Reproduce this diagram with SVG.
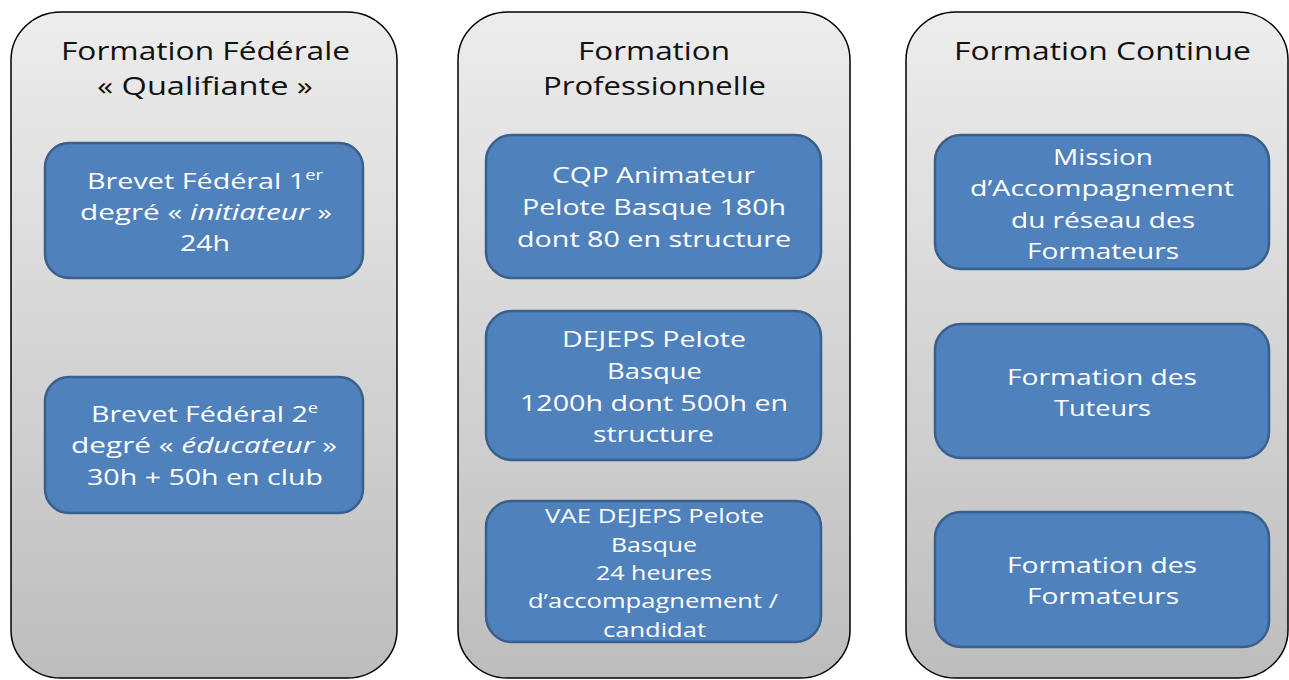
<svg xmlns="http://www.w3.org/2000/svg" width="1289" height="680" viewBox="0 0 1289 680">
<defs>
<linearGradient id="pg" x1="0" y1="0" x2="0" y2="1">
<stop offset="0" stop-color="#EDEDED"/>
<stop offset="1" stop-color="#BDBDBD"/>
</linearGradient>
</defs>
<style>
.panel{fill:url(#pg);stroke:#000;stroke-width:1.5}
.box{fill:#4F81BD;stroke:#3A5F8C;stroke-width:2.5}
.t{font-family:"Open Sans","Liberation Sans",sans-serif;font-size:26px;fill:#111;text-anchor:middle}
.b{font-family:"Open Sans","Liberation Sans",sans-serif;font-size:22px;fill:#fff;text-anchor:middle}
.s{font-family:"Open Sans","Liberation Sans",sans-serif;font-size:20px;fill:#fff;text-anchor:middle}
.sup{font-size:14px}
</style>
<rect width="1289" height="680" fill="#fff"/>
<g id="panel-federale">
<rect class="panel" x="11" y="12" width="386" height="666" rx="50" ry="48"/>
<text class="t" x="205.5" y="60" textLength="289" lengthAdjust="spacingAndGlyphs">Formation Fédérale</text>
<text class="t" x="205" y="95" textLength="216" lengthAdjust="spacingAndGlyphs">« Qualifiante »</text>
</g>
<g id="panel-pro">
<rect class="panel" x="458" y="12" width="392" height="666" rx="50" ry="48"/>
<text class="t" x="654" y="60" textLength="152" lengthAdjust="spacingAndGlyphs">Formation</text>
<text class="t" x="654.5" y="95" textLength="223" lengthAdjust="spacingAndGlyphs">Professionnelle</text>
</g>
<g id="panel-continue">
<rect class="panel" x="906" y="12" width="382" height="666" rx="50" ry="48"/>
<text class="t" x="1102.5" y="60" textLength="297" lengthAdjust="spacingAndGlyphs">Formation Continue</text>
</g>
<g id="bf1">
<rect class="box" x="45" y="143" width="318" height="135" rx="24"/>
<text class="b" x="205" y="189" textLength="236" lengthAdjust="spacingAndGlyphs">Brevet Fédéral  1<tspan class="sup" dy="-9">er</tspan></text>
<text class="b" x="206" y="220" textLength="252" lengthAdjust="spacingAndGlyphs">degré « <tspan font-style="italic">initiateur</tspan> »</text>
<text class="b" x="205" y="251" textLength="50" lengthAdjust="spacingAndGlyphs">24h</text>
</g>
<g id="bf2">
<rect class="box" x="45" y="377" width="318" height="136" rx="24"/>
<text class="b" x="204.5" y="422" textLength="227" lengthAdjust="spacingAndGlyphs">Brevet Fédéral  2<tspan class="sup" dy="-9">e</tspan></text>
<text class="b" x="204" y="453" textLength="266" lengthAdjust="spacingAndGlyphs">degré « <tspan font-style="italic">éducateur</tspan> »</text>
<text class="b" x="205" y="485" textLength="236" lengthAdjust="spacingAndGlyphs">30h + 50h en club</text>
</g>
<g id="cqp">
<rect class="box" x="486" y="135" width="335" height="143" rx="26"/>
<text class="b" x="653.5" y="183" textLength="203" lengthAdjust="spacingAndGlyphs">CQP Animateur</text>
<text class="b" x="654" y="215" textLength="264" lengthAdjust="spacingAndGlyphs">Pelote Basque 180h</text>
<text class="b" x="654" y="247" textLength="274" lengthAdjust="spacingAndGlyphs">dont 80 en structure</text>
</g>
<g id="dejeps">
<rect class="box" x="486" y="311" width="335" height="149" rx="26"/>
<text class="b" x="654" y="347" textLength="184" lengthAdjust="spacingAndGlyphs">DEJEPS Pelote</text>
<text class="b" x="654.5" y="379" textLength="95" lengthAdjust="spacingAndGlyphs">Basque</text>
<text class="b" x="654" y="411" textLength="268" lengthAdjust="spacingAndGlyphs">1200h dont 500h en</text>
<text class="b" x="653.5" y="442" textLength="121" lengthAdjust="spacingAndGlyphs">structure</text>
</g>
<g id="vae">
<rect class="box" x="486" y="501" width="335" height="141" rx="26"/>
<text class="s" x="654.5" y="523" textLength="219" lengthAdjust="spacingAndGlyphs">VAE DEJEPS Pelote</text>
<text class="s" x="654" y="552" textLength="86" lengthAdjust="spacingAndGlyphs">Basque</text>
<text class="s" x="654" y="580" textLength="116" lengthAdjust="spacingAndGlyphs">24 heures</text>
<text class="s" x="653" y="608" textLength="250" lengthAdjust="spacingAndGlyphs">d’accompagnement /</text>
<text class="s" x="654.5" y="637" textLength="103" lengthAdjust="spacingAndGlyphs">candidat</text>
</g>
<g id="mission">
<rect class="box" x="935" y="135" width="334" height="134" rx="26"/>
<text class="b" x="1103" y="165" textLength="100" lengthAdjust="spacingAndGlyphs">Mission</text>
<text class="b" x="1102" y="196" textLength="264" lengthAdjust="spacingAndGlyphs">d’Accompagnement</text>
<text class="b" x="1103" y="228" textLength="184" lengthAdjust="spacingAndGlyphs">du réseau des</text>
<text class="b" x="1103" y="259" textLength="152" lengthAdjust="spacingAndGlyphs">Formateurs</text>
</g>
<g id="tuteurs">
<rect class="box" x="935" y="324" width="334" height="134" rx="26"/>
<text class="b" x="1102" y="385" textLength="190" lengthAdjust="spacingAndGlyphs">Formation des</text>
<text class="b" x="1102.5" y="416" textLength="97" lengthAdjust="spacingAndGlyphs">Tuteurs</text>
</g>
<g id="formateurs">
<rect class="box" x="935" y="512" width="334" height="135" rx="26"/>
<text class="b" x="1102" y="573" textLength="190" lengthAdjust="spacingAndGlyphs">Formation des</text>
<text class="b" x="1103" y="604" textLength="152" lengthAdjust="spacingAndGlyphs">Formateurs</text>
</g>
<g id="connectors"/>
</svg>
